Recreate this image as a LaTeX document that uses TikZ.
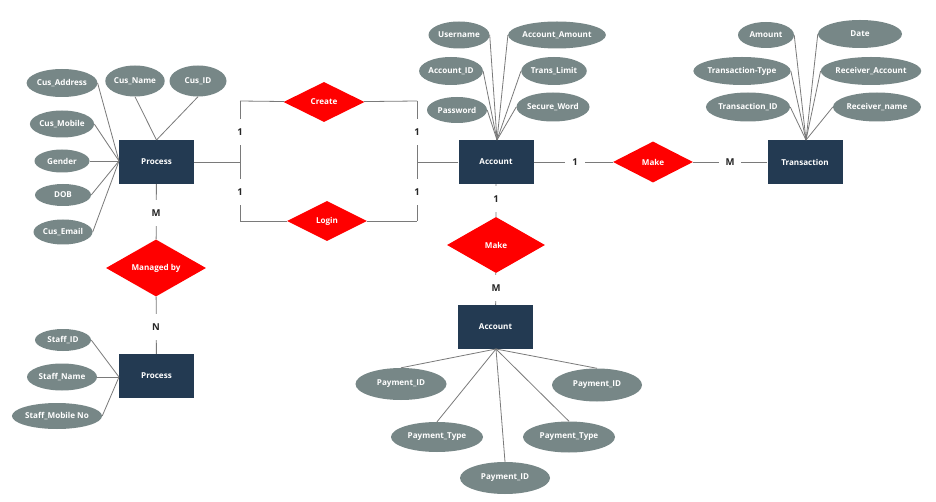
\documentclass[tikz,border=0pt]{standalone}
\usepackage{fontspec}
\setmainfont{Open Sans}
\usetikzlibrary{shapes.geometric}
\definecolor{ent}{HTML}{233A52}
\definecolor{att}{HTML}{778787}
\definecolor{relc}{HTML}{FF0000}
\definecolor{ln}{HTML}{7A7A7A}
\begin{document}
\begin{tikzpicture}[x=1pt,y=-1pt,
  lbl/.style={text=white,font=\bfseries\fontsize{8.1}{9}\selectfont},
  entity/.style={lbl,fill=ent,minimum width=75pt,minimum height=44pt,inner sep=0pt},
  attr/.style 2 args={lbl,ellipse,fill=att,inner sep=0pt,minimum width=#1,minimum height=#2},
  rel/.style 2 args={lbl,diamond,fill=relc,inner sep=0pt,minimum width=#1,minimum height=#2},
  conn/.style={draw=ln,line width=0.8pt},
  card/.style={fill=white,inner xsep=7pt,inner ysep=10pt,text=black!85,font=\bfseries\fontsize{9.5}{10}\selectfont}]
\useasboundingbox[fill=white] (0,0) rectangle (936,502);

% entities
\node[entity] (proc1) at (156.5,162) {Process};
\node[entity] (acc1) at (496,162) {Account};
\node[entity] (trans) at (805,162) {Transaction};
\node[entity] (acc2) at (495.5,327) {Account};
\node[entity] (proc2) at (156.5,376) {Process};

% relationships
\node[rel={81pt}{40pt}] (create) at (324,102) {Create};
\node[rel={80pt}{40pt}] (login) at (327,221) {Login};
\node[rel={80pt}{41pt}] (make1) at (653,162) {Make};
\node[rel={98pt}{56pt}] (make2) at (496,245) {Make};
\node[rel={100pt}{54pt}] (managed) at (156,268) {Managed by};

% customer attributes
\node[attr={70pt}{28pt}] (caddr) at (62,83) {Cus\_Address};
\node[attr={57pt}{31pt}] (cname) at (135,81) {Cus\_Name};
\node[attr={57pt}{31pt}] (cid) at (198,81) {Cus\_ID};
\node[attr={63pt}{27pt}] (cmob) at (62,124) {Cus\_Mobile};
\node[attr={55pt}{23pt}] (gender) at (62,161) {Gender};
\node[attr={56pt}{22pt}] (dob) at (63,195) {DOB};
\node[attr={59pt}{25pt}] (cmail) at (63,232) {Cus\_Email};

% account attributes
\node[attr={61pt}{27pt}] (uname) at (459,35) {Username};
\node[attr={84pt}{27pt}] (aamt) at (557,35) {Account\_Amount};
\node[attr={60pt}{28pt}] (aid) at (451,71) {Account\_ID};
\node[attr={60pt}{28pt}] (tlim) at (554,71) {Trans\_Limit};
\node[attr={60pt}{26pt}] (pwd) at (457,110) {Password};
\node[attr={66pt}{29pt}] (sword) at (553,107) {Secure\_Word};

% transaction attributes
\node[attr={56pt}{26pt}] (amt) at (766,35) {Amount};
\node[attr={84pt}{28pt}] (date) at (860,34) {Date};
\node[attr={92pt}{28pt}] (ttype) at (742,71) {Transaction-Type};
\node[attr={90pt}{28pt}] (racc) at (871,71) {Receiver\_Account};
\node[attr={78pt}{29pt}] (tid) at (748,107) {Transaction\_ID};
\node[attr={88pt}{29pt}] (rname) at (877,107) {Receiver\_name};

% staff attributes
\node[attr={56pt}{22pt}] (sid) at (63,340) {Staff\_ID};
\node[attr={70pt}{27pt}] (sname) at (62,377) {Staff\_Name};
\node[attr={82pt}{26pt}] (smob) at (57,416) {Staff\_Mobile No};

% payment attributes
\node[attr={91pt}{32pt}] (pay1) at (401,384) {Payment\_ID};
\node[attr={92pt}{30pt}] (pay2) at (437,437) {Payment\_Type};
\node[attr={90pt}{32pt}] (pay3) at (505,478) {Payment\_ID};
\node[attr={92pt}{31pt}] (pay4) at (569,437) {Payment\_Type};
\node[attr={90pt}{33pt}] (pay5) at (597,385) {Payment\_ID};

% convergence points
\coordinate (pL) at (119,161);
\coordinate (pT) at (156.5,140);
\coordinate (aT) at (497,140);
\coordinate (tT) at (806,140);
\coordinate (sL) at (119,377);
\coordinate (aB) at (496,349);

% attribute connectors
\foreach \n in {caddr,cmob,gender,dob,cmail} \draw[conn] (\n.east) -- (pL);
\foreach \n in {cname,cid} \draw[conn] (\n.south) -- (pT);
\foreach \n in {uname,aid,pwd} \draw[conn] (\n.east) -- (aT);
\foreach \n in {aamt,tlim,sword} \draw[conn] (\n.west) -- (aT);
\foreach \n in {amt,ttype,tid} \draw[conn] (\n.east) -- (tT);
\foreach \n in {date,racc,rname} \draw[conn] (\n.west) -- (tT);
\foreach \n in {sid,sname,smob} \draw[conn] (\n.east) -- (sL);
\foreach \n in {pay1,pay2,pay3,pay4,pay5} \draw[conn] (aB) -- (\n.north);

% create / login bracket
\coordinate (bl) at (240,162);
\coordinate (br) at (417,162);
\coordinate (blt) at (240,101);
\coordinate (brt) at (417,101);
\coordinate (blb) at (240,221);
\coordinate (brb) at (417,221);
\draw[conn] (proc1) -- (bl);
\draw[conn] (acc1) -- (br);
\draw[conn] (blt) -- (blb);
\draw[conn] (brt) -- (brb);
\draw[conn] (blt) -- (create) -- (brt);
\draw[conn] (blb) -- (login) -- (brb);

% other relationships
\draw[conn] (acc1) -- (make1) -- (trans);
\draw[conn] (acc1) -- (make2) -- (acc2);
\draw[conn] (proc1) -- (managed) -- (proc2);

% cardinalities
\node[card] (k1) at (240,132) {1};
\node[card] (k2) at (417,132) {1};
\node[card] (k3) at (240,192) {1};
\node[card] (k4) at (417,192) {1};
\node[card] (k5) at (575,162) {1};
\node[card] (k6) at (730,162) {M};
\node[card] (k7) at (496,199) {1};
\node[card] (k8) at (496,288) {M};
\node[card] (k9) at (156,213) {M};
\node[card] (k10) at (156,327) {N};
\end{tikzpicture}
\end{document}
